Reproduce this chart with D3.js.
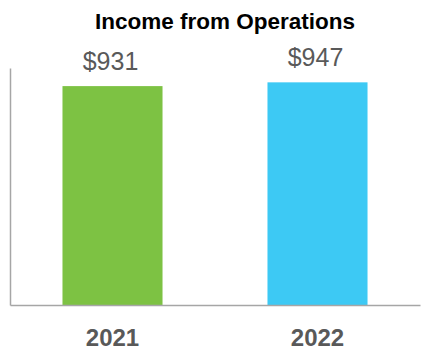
<!DOCTYPE html>
<html><head><meta charset="utf-8">
<script src="https://cdn.jsdelivr.net/npm/d3@7"></script>
<style>body{margin:0;background:#fff}</style>
</head><body>
<svg id="c" width="430" height="360"></svg>
<script>
const categories = ["2021", "2022"];
const values = [931, 947];
const valueLabels = ["$931", "$947"];
const colors = ["#7DC243", "#3DC9F4"];
const title = "Income from Operations";

const svg = d3.select("#c");
const x = d3.scaleBand().domain(categories).range([10, 420]).paddingInner(0.512).paddingOuter(0.256);
const y = d3.scaleLinear().domain([0, 1008]).range([305, 68]);

svg.append("text").attr("x", 225).attr("y", 29).attr("text-anchor", "middle")
  .attr("font-family", "Liberation Sans, Arial, sans-serif").attr("font-weight", "bold")
  .attr("font-size", 22.5).attr("fill", "#000").text(title);

svg.selectAll("rect.bar").data(values).join("rect").attr("class", "bar")
  .attr("x", (d, i) => x(categories[i])).attr("width", x.bandwidth())
  .attr("y", d => y(d)).attr("height", d => y(0) - y(d))
  .attr("fill", (d, i) => colors[i]);

svg.selectAll("text.val").data(values).join("text").attr("class", "val")
  .attr("x", (d, i) => x(categories[i]) + x.bandwidth() / 2 - 2)
  .attr("y", d => y(d) - 16).attr("text-anchor", "middle")
  .attr("font-family", "Liberation Sans, Arial, sans-serif").attr("font-size", 25)
  .attr("fill", "#595959").text((d, i) => valueLabels[i]);

// axes
const yAxis = svg.append("g").attr("transform", "translate(10,0)")
  .call(d3.axisLeft(y).tickValues([]).tickSizeOuter(0));
yAxis.select(".domain").attr("stroke", "#A6A6A6").attr("stroke-width", 1.5);

const xAxis = svg.append("g").attr("transform", `translate(0,${y(0)})`)
  .call(d3.axisBottom(x).tickSize(0).tickPadding(0));
xAxis.select(".domain").attr("stroke", "#A6A6A6").attr("stroke-width", 1.5);
xAxis.selectAll("text").attr("dy", 0).attr("y", 41)
  .attr("font-family", "Liberation Sans, Arial, sans-serif").attr("font-weight", "bold")
  .attr("font-size", 24).attr("fill", "#595959");
</script>
</body></html>
